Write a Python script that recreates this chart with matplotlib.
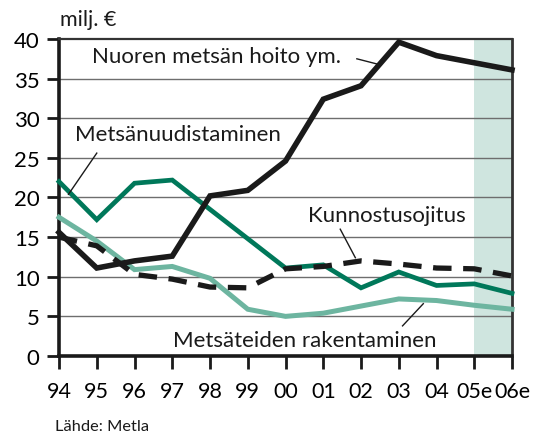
import numpy as np
import matplotlib
matplotlib.use('Agg')
from matplotlib import pyplot as plt

plt.rcParams['font.family'] = ['Lato', 'DejaVu Sans']

years = ['94', '95', '96', '97', '98', '99', '00', '01', '02', '03', '04', '05e', '06e']
hoito = [15.6, 11.1, 12.0, 12.6, 20.2, 20.9, 24.6, 32.4, 34.1, 39.6, 37.9, 37.0, 36.1]
uudistaminen = [22.0, 17.2, 21.8, 22.2, 18.5, 14.8, 11.1, 11.5, 8.6, 10.6, 8.9, 9.1, 7.9]
tiet = [17.5, 14.5, 10.9, 11.3, 9.8, 5.9, 5.0, 5.4, 6.3, 7.2, 7.0, 6.4, 5.9]
ojitus = [15.0, 13.9, 10.3, 9.7, 8.7, 8.6, 11.0, 11.3, 12.0, 11.6, 11.1, 11.0, 10.1]

x = np.arange(len(years))

fig = plt.figure(figsize=(5.38, 4.39), dpi=100)
ax = fig.add_axes([0.1097, 0.1868, 0.842, 0.7221])

# estimate years shaded
ax.axvspan(11, 12, color='#cfe5df', lw=0, zorder=0)

for v in range(5, 40, 5):
	ax.axhline(v, color='#6e6e6e', lw=1.0, zorder=1)

ax.plot(x, tiet, color='#6db5a0', lw=3.6, zorder=3, solid_joinstyle='miter', clip_on=False)
ax.plot(x, uudistaminen, color='#00785a', lw=3.4, zorder=4, solid_joinstyle='miter', clip_on=False)
ax.plot(x, ojitus, color='#1a1a1a', lw=3.8, ls=(0, (3.5, 2.2)), zorder=5, clip_on=False)
ax.plot(x, hoito, color='#1a1a1a', lw=4.0, zorder=6, solid_joinstyle='miter', clip_on=False)

ax.set_xlim(0, 12)
ax.set_ylim(0, 40)
ax.set_xticks(x)
ax.set_xticklabels(years)
ax.set_yticks(range(0, 41, 5))

for s in ['left', 'bottom']:
	ax.spines[s].set_linewidth(2.6)
	ax.spines[s].set_color('#1a1a1a')
ax.spines['top'].set_linewidth(1.6)
ax.spines['top'].set_color('#333333')
ax.spines['right'].set_linewidth(2.0)
ax.spines['right'].set_color('#333333')

ax.tick_params(axis='both', direction='out', length=9, width=2, color='#1a1a1a', labelsize=16)
ax.tick_params(axis='x', pad=9, labelsize=15.5)
ax.tick_params(axis='y', pad=5)

# series labels with leader lines
lab = dict(fontsize=16, color='#1a1a1a', zorder=10)
ax.text(0.87, 37.85, 'Nuoren metsän hoito ym.', ha='left', va='center', **lab)
ax.plot([7.89, 8.42], [37.5, 36.85], color='#1a1a1a', lw=1, zorder=10)
ax.text(0.42, 28.0, 'Metsänuudistaminen', ha='left', va='center', **lab)
ax.plot([1.0, 0.25], [25.6, 20.4], color='#1a1a1a', lw=1, zorder=10)
ax.text(6.6, 17.8, 'Kunnostusojitus', ha='left', va='center', **lab)
ax.plot([7.45, 7.85], [16.0, 12.4], color='#1a1a1a', lw=1, zorder=10)
ax.text(3.02, 2.0, 'Metsäteiden rakentaminen', ha='left', va='center', **lab)
ax.plot([9.1, 9.65], [3.8, 6.6], color='#1a1a1a', lw=1, zorder=10)

fig.text(60 / 538, 1 - 20 / 439, 'milj. €', fontsize=15.5, ha='left', va='center', color='#1a1a1a')
fig.text(55 / 538, 1 - 427 / 439, 'Lähde: Metla', fontsize=11.8, ha='left', va='center', color='#1a1a1a')

fig.savefig('out.png', dpi=100)
